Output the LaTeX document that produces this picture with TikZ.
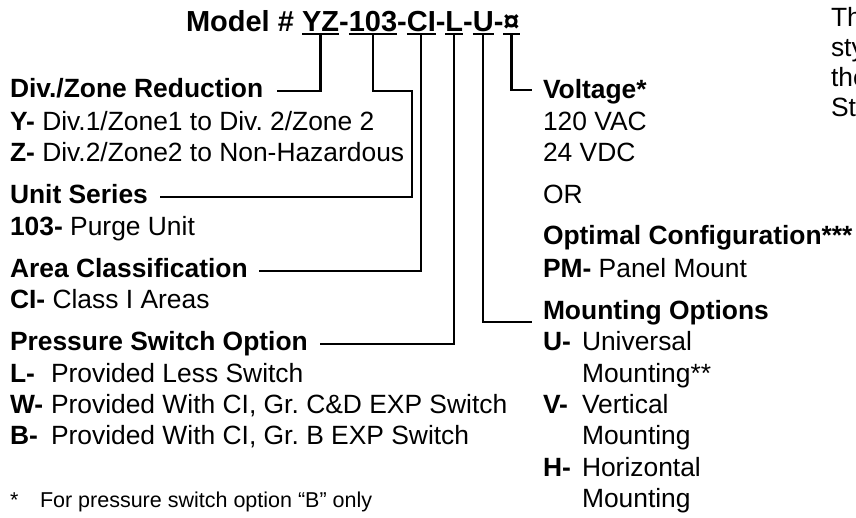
\documentclass[tikz,border=0pt]{standalone}
\usepackage{fontspec}
\setmainfont{Liberation Sans}
\usetikzlibrary{positioning}

\begin{document}
\frenchspacing
\begin{tikzpicture}[
    x=1pt, y=-1pt,
    line width=2.2pt,
    body/.style={anchor=base west, inner sep=0pt, outer sep=0pt, font=\fontsize{26.4}{31}\selectfont},
    head/.style={body, font=\fontsize{26.4}{31}\selectfont\bfseries, text height=17pt, text depth=5pt},
    code/.style={anchor=base west, inner sep=0pt, outer sep=0pt, text depth=0pt, font=\fontsize{29}{34}\selectfont\bfseries},
    foot/.style={anchor=base west, inner sep=0pt, outer sep=0pt, font=\fontsize{21.5}{26}\selectfont},
    uline/.style={line width=2.4pt}
]
\useasboundingbox (0,0) rectangle (856,517);

% model number
\node[code] (model) at (186,31) {Model \#};
\node[code] (cYZ) at ([xshift=8.1pt]model.base east) {YZ};
\node[code] (d1) at (cYZ.base east) {-};
\node[code] (c103) at (d1.base east) {103};
\node[code] (d2) at (c103.base east) {-};
\node[code] (cCI) at (d2.base east) {CI};
\node[code] (d3) at (cCI.base east) {-};
\node[code] (cL) at (d3.base east) {L};
\node[code] (d4) at (cL.base east) {-};
\node[code] (cU) at (d4.base east) {U};
\node[code] (d5) at (cU.base east) {-};
\node[code] (cX) at (d5.base east) {¤};
\foreach \c in {cYZ,c103,cCI,cL,cU,cX}
    \draw[uline] ([yshift=-3pt]\c.base west) -- ([yshift=-3pt]\c.base east);

% left column
\node[head] (hDiv) at (10,97) {Div./Zone Reduction};
\node[body] (oY) at (10,130) {\textbf{Y-} Div.1/Zone1 to Div. 2/Zone 2};
\node[body] (oZ) at (10,161) {\textbf{Z-} Div.2/Zone2 to Non-Hazardous};
\node[head] (hUnit) at (10,203) {Unit Series};
\node[body] (o103) at (10,235) {\textbf{103-} Purge Unit};
\node[head] (hArea) at (10,277) {Area Classification};
\node[body] (oCI) at (10,308) {\textbf{CI-} Class I Areas};
\node[head] (hPress) at (10,350) {Pressure Switch Option};
\node[body] (kL) at (10,382) {\textbf{L-}};
\node[body] (tL) at (51,382) {Provided Less Switch};
\node[body] (kW) at (10,413) {\textbf{W-}};
\node[body] (tW) at (51,413) {Provided With CI, Gr. C\&D EXP Switch};
\node[body] (kB) at (10,444) {\textbf{B-}};
\node[body] (tB) at (51,444) {Provided With CI, Gr. B EXP Switch};
\node[foot] (fStar) at (10,507) {*};
\node[foot] (fNote) at (40,507) {For pressure switch option “B” only};

% right column
\node[head] (hVolt) at (543,98) {Voltage*};
\node[body] (o120) at (543,130) {120 VAC};
\node[body] (o24) at (543,161) {24 VDC};
\node[body] (oOR) at (543,203) {OR};
\node[head] (hOpt) at (543,244) {Optimal Configuration***};
\node[body] (oPM) at (543,277) {\textbf{PM-} Panel Mount};
\node[head] (hMount) at (543,319) {Mounting Options};
\node[body] (kU) at (543,350) {\textbf{U-}};
\node[body] (tU) at (582,350) {Universal};
\node[body] (tU2) at (582,382) {Mounting**};
\node[body] (kV) at (543,413) {\textbf{V-}};
\node[body] (tV) at (582,413) {Vertical};
\node[body] (tV2) at (582,444) {Mounting};
\node[body] (kH) at (543,476) {\textbf{H-}};
\node[body] (tH) at (582,476) {Horizontal};
\node[body] (tH2) at (582,507) {Mounting};

% cut-off note
\node[body] (n1) at (831,26) {Th};
\node[body] (n2) at (831,56) {sty};
\node[body] (n3) at (831,86) {the};
\node[body] (n4) at (831,116) {Sty};

% connectors
\coordinate (j103) at (412,0);
\draw[shorten >=14pt] ([yshift=-3pt]cYZ.base) |- (hDiv.east);
\draw[shorten >=12pt] ([yshift=-3pt]c103.base) |- (j103 |- hDiv.east) |- (hUnit.east);
\draw[shorten >=11pt] ([yshift=-3pt]cCI.base) |- (hArea.east);
\draw[shorten >=12pt] ([yshift=-3pt]cL.base) |- (hPress.east);
\draw[shorten >=11pt] ([yshift=-3pt]cU.base) |- ([yshift=-9pt]hMount.west);
\draw[shorten >=11pt] ([yshift=-3pt]cX.base) |- ([yshift=2pt]hVolt.west);
\end{tikzpicture}
\end{document}
